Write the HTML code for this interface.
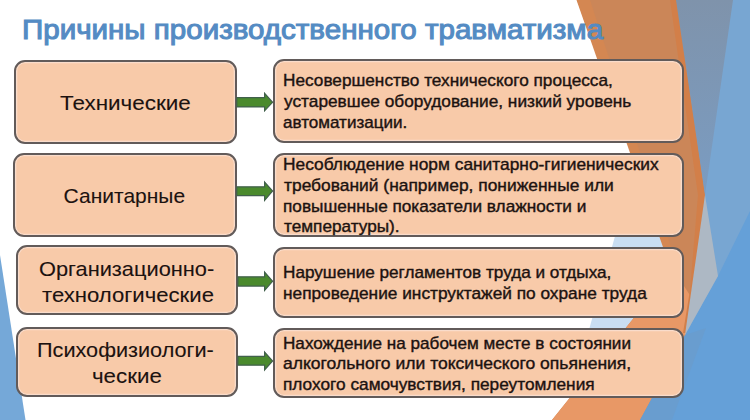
<!DOCTYPE html>
<html><head><meta charset="utf-8">
<style>
html,body{margin:0;padding:0;}
body{width:750px;height:420px;position:relative;overflow:hidden;background:#fff;font-family:"Liberation Sans",sans-serif;}
svg.bg{position:absolute;left:0;top:0;}
.t{position:absolute;white-space:nowrap;line-height:1;transform-origin:0 0;}
.box{position:absolute;box-sizing:border-box;border:2px solid #625b5a;border-radius:11px;background:#f8caa9;box-shadow:inset 0 0 0 1.3px #f9dccb;}
</style></head><body>
<svg class="bg" width="750" height="420" viewBox="0 0 750 420">
  <defs><linearGradient id="gb" x1="0" y1="0" x2="0" y2="195" gradientUnits="userSpaceOnUse"><stop offset="0" stop-color="#7f93ab"/><stop offset="1" stop-color="#7a9cc2"/></linearGradient></defs>
  <polygon points="0,255 0,420 25.5,420" fill="#75a8d8"/>
  <polygon points="650,110 750,110 750,420 564,420" fill="#c9def2"/>
  <polygon points="700,0 750,0 750,420 600,420 680,300" fill="#78a6d2"/>
  <polygon points="750,211 750,420 600,420 685,335 718,276" fill="#65a0d8"/>
  <polygon points="577,0 677,0 705,195 695,290 686,333 652,398 640,420 552,420 673,269" fill="#cb8658"/>
  <polygon points="552,420 673,269 693,300 686,333 652,398 640,420" fill="#e89866"/>
  <polygon points="576.5,0 590,0 672,250 664,250" fill="#d48752"/>
  <polygon points="640,420 652,398 685,335 706,328 672,420" fill="#699dcf"/>
  <polygon points="670,0 677,0 705,195 695,290 686,333 683,333 690,290 698,195" fill="#d27f49"/>
  <polygon points="676,0 733,0 705,195" fill="url(#gb)"/>
  <polygon points="705,195 718,276 685,335" fill="#adb8c4"/>
</svg>

<div class="box" style="left:14px;top:59.5px;width:222.5px;height:84.5px;"></div>
<div class="box" style="left:12.6px;top:152.5px;width:224px;height:84.7px;"></div>
<div class="box" style="left:15.9px;top:244.5px;width:222px;height:70.8px;"></div>
<div class="box" style="left:16.4px;top:326.6px;width:221.5px;height:70.9px;"></div>

<div class="box" style="left:273.3px;top:58.5px;width:411px;height:84.4px;"></div>
<div class="box" style="left:273.3px;top:152.5px;width:411px;height:84px;"></div>
<div class="box" style="left:273.3px;top:247px;width:411px;height:70.7px;"></div>
<div class="box" style="left:273.3px;top:327.8px;width:411px;height:70.3px;"></div>

<svg class="bg" width="750" height="420" viewBox="0 0 750 420">
  <g fill="#4a8a2d" stroke="#41604c" stroke-width="1.2" stroke-linejoin="miter" stroke-miterlimit="3">
    <polygon points="236.8,97.69999999999999 264.6,97.69999999999999 264.6,93.39999999999999 272.6,102.3 264.6,110.8 264.6,106.9 236.8,106.9"/>
    <polygon points="236.8,186.79999999999998 264.6,186.79999999999998 264.6,182.10000000000002 272.6,191.0 264.6,200.39999999999998 264.6,195.6 236.8,195.6"/>
    <polygon points="237.9,276.8 264.6,276.8 264.6,272.1 272.6,281.3 264.6,290.4 264.6,286.09999999999997 237.9,286.09999999999997"/>
    <polygon points="237.9,356.40000000000003 264.6,356.40000000000003 264.6,352.1 272.6,361.0 264.6,369.9 264.6,365.2 237.9,365.2"/>
  </g>
</svg>
<div class="t" style="left:22.31px;top:17.20px;font-size:27px;font-weight:normal;color:#548bc3;-webkit-text-stroke:1.05px #548bc3;transform:scaleX(1.0940)">Причины производственного травматизма</div>
<div class="t" style="left:59.80px;top:92.20px;font-size:21px;font-weight:normal;color:#1c1210;-webkit-text-stroke:0.1px #1c1210;transform:scaleX(1.0689)">Технические</div>
<div class="t" style="left:63.60px;top:184.70px;font-size:21px;font-weight:normal;color:#1c1210;-webkit-text-stroke:0.1px #1c1210;transform:scaleX(1.0000)">Санитарные</div>
<div class="t" style="left:39.06px;top:258.30px;font-size:21px;font-weight:normal;color:#1c1210;-webkit-text-stroke:0.1px #1c1210;transform:scaleX(1.0377)">Организационно-</div>
<div class="t" style="left:41.90px;top:283.60px;font-size:21px;font-weight:normal;color:#1c1210;-webkit-text-stroke:0.1px #1c1210;transform:scaleX(1.0537)">технологические</div>
<div class="t" style="left:37.44px;top:338.80px;font-size:21px;font-weight:normal;color:#1c1210;-webkit-text-stroke:0.1px #1c1210;transform:scaleX(1.0314)">Психофизиологи-</div>
<div class="t" style="left:91.74px;top:364.90px;font-size:21px;font-weight:normal;color:#1c1210;-webkit-text-stroke:0.1px #1c1210;transform:scaleX(1.0625)">ческие</div>
<div class="t" style="left:283.39px;top:72.40px;font-size:17px;font-weight:normal;color:#1c1210;-webkit-text-stroke:0.4px #1c1210;transform:scaleX(1.0127)">Несовершенство технического процесса,</div>
<div class="t" style="left:284.40px;top:93.05px;font-size:17px;font-weight:normal;color:#1c1210;-webkit-text-stroke:0.4px #1c1210;transform:scaleX(1.0158)">устаревшее оборудование, низкий уровень</div>
<div class="t" style="left:283.40px;top:113.70px;font-size:17px;font-weight:normal;color:#1c1210;-webkit-text-stroke:0.4px #1c1210;transform:scaleX(1.0025)">автоматизации.</div>
<div class="t" style="left:283.38px;top:156.20px;font-size:17px;font-weight:normal;color:#1c1210;-webkit-text-stroke:0.4px #1c1210;transform:scaleX(1.0204)">Несоблюдение норм санитарно-гигиенических</div>
<div class="t" style="left:284.40px;top:176.90px;font-size:17px;font-weight:normal;color:#1c1210;-webkit-text-stroke:0.4px #1c1210;transform:scaleX(1.0234)">требований (например, пониженные или</div>
<div class="t" style="left:283.39px;top:197.60px;font-size:17px;font-weight:normal;color:#1c1210;-webkit-text-stroke:0.4px #1c1210;transform:scaleX(1.0121)">повышенные показатели влажности и</div>
<div class="t" style="left:284.40px;top:218.30px;font-size:17px;font-weight:normal;color:#1c1210;-webkit-text-stroke:0.4px #1c1210;transform:scaleX(1.0115)">температуры).</div>
<div class="t" style="left:283.39px;top:264.40px;font-size:17px;font-weight:normal;color:#1c1210;-webkit-text-stroke:0.4px #1c1210;transform:scaleX(1.0093)">Нарушение регламентов труда и отдыха,</div>
<div class="t" style="left:283.38px;top:285.05px;font-size:17px;font-weight:normal;color:#1c1210;-webkit-text-stroke:0.4px #1c1210;transform:scaleX(1.0162)">непроведение инструктажей по охране труда</div>
<div class="t" style="left:283.39px;top:334.70px;font-size:17px;font-weight:normal;color:#1c1210;-webkit-text-stroke:0.4px #1c1210;transform:scaleX(1.0070)">Нахождение на рабочем месте в состоянии</div>
<div class="t" style="left:283.37px;top:355.30px;font-size:17px;font-weight:normal;color:#1c1210;-webkit-text-stroke:0.4px #1c1210;transform:scaleX(1.0316)">алкогольного или токсического опьянения,</div>
<div class="t" style="left:283.38px;top:375.90px;font-size:17px;font-weight:normal;color:#1c1210;-webkit-text-stroke:0.4px #1c1210;transform:scaleX(1.0157)">плохого самочувствия, переутомления</div>
</body></html>
